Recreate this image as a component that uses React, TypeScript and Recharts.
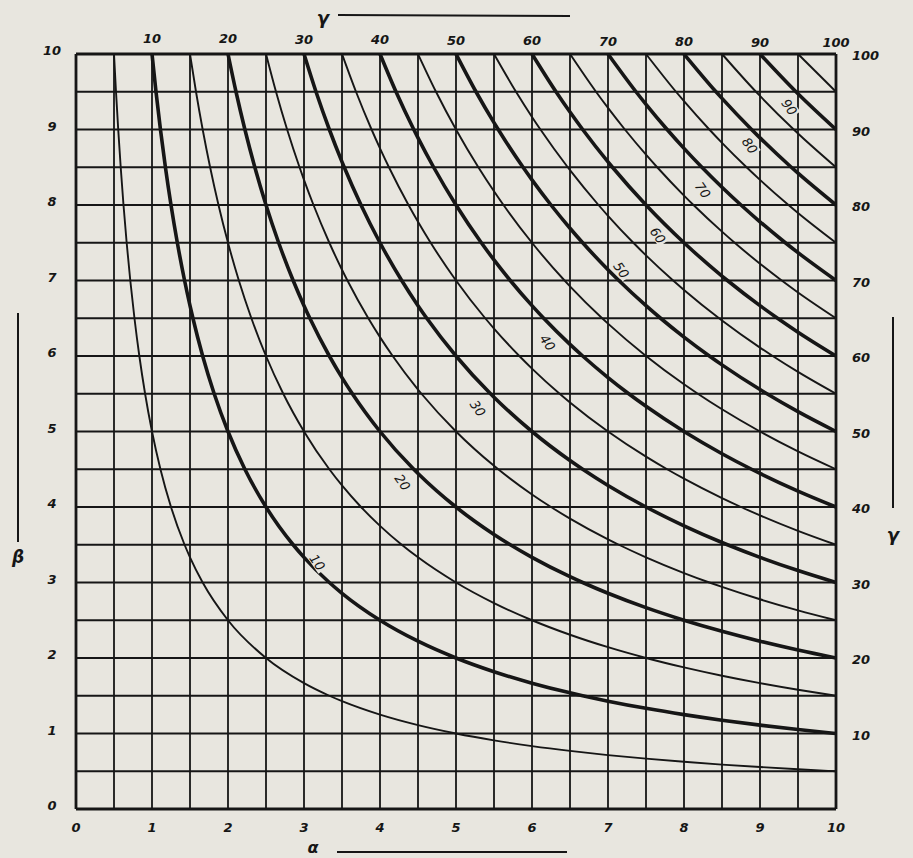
import { ComposedChart, Line, Scatter, XAxis, YAxis, ReferenceLine } from 'recharts';

// isolines of the nomogram: gamma = alpha * beta
const GAMMAS = [5, 10, 15, 20, 25, 30, 35, 40, 45, 50, 55, 60, 65, 70, 75, 80, 85, 90, 95];
const GRID_VALUES = [0, 0.5, 1, 1.5, 2, 2.5, 3, 3.5, 4, 4.5, 5, 5.5, 6, 6.5, 7, 7.5, 8, 8.5, 9, 9.5, 10];
const ALPHA_TICKS = [0, 1, 2, 3, 4, 5, 6, 7, 8, 9, 10];
const BETA_TICKS = [0, 1, 2, 3, 4, 5, 6, 7, 8, 9, 10];
const TOP_TICKS = [1, 2, 3, 4, 5, 6, 7, 8, 9, 10];
const RIGHT_TICKS = [1, 2, 3, 4, 5, 6, 7, 8, 9, 10];

// where the curve numbers are written
const CURVE_LABELS = [
  { a: 3.18, b: 3.27, text: '10' },
  { a: 4.3, b: 4.33, text: '20' },
  { a: 5.29, b: 5.31, text: '30' },
  { a: 6.21, b: 6.18, text: '40' },
  { a: 7.18, b: 7.14, text: '50' },
  { a: 7.66, b: 7.6, text: '60' },
  { a: 8.25, b: 8.2, text: '70' },
  { a: 8.87, b: 8.79, text: '80' },
  { a: 9.39, b: 9.3, text: '90' },
];

const PAPER = '#e8e6df';
const INK = '#161616';
const FONT = '"DejaVu Sans", sans-serif';

// points where each isoline crosses the grid lines
function crossings(g: number) {
  const pts: { a: number; b: number }[] = [];
  GRID_VALUES.forEach((v) => {
    if (v > 0 && v * 10 >= g) {
      pts.push({ a: v, b: g / v });
      pts.push({ a: g / v, b: v });
    }
  });
  pts.sort((p, q) => p.a - q.a);
  return pts.filter((p, i) => i === 0 || Math.abs(p.a - pts[i - 1].a) > 1e-6);
}

const labelStyle = { fontFamily: FONT, fontStyle: 'italic', fontWeight: 700, fontSize: 13, fill: INK } as const;

function CurveLabel(props: any) {
  const { cx, cy, payload } = props;
  return (
    <g transform={`translate(${cx},${cy}) rotate(55)`}>
      <rect x={-10} y={-6} width={20} height={12} fill={PAPER} />
      <text x={0} y={5} textAnchor="middle" style={{ ...labelStyle, fontWeight: 400, fontSize: 13 }}>
        {payload.text}
      </text>
    </g>
  );
}

export default function App() {
  return (
    <div style={{ position: 'absolute', left: 0, top: 0, width: 913, height: 858, background: PAPER, overflow: 'hidden' }}>
      <ComposedChart width={913} height={858} margin={{ top: 53, left: 75, right: 76, bottom: 48 }}>
        <XAxis
          xAxisId="a"
          dataKey="a"
          type="number"
          domain={[0, 10]}
          ticks={ALPHA_TICKS}
          interval={0}
          height={1}
          axisLine={false}
          tickLine={false}
          tick={({ x, payload }: any) => (
            <text x={x} y={832} textAnchor="middle" style={labelStyle}>{payload.value}</text>
          )}
        />
        <XAxis
          xAxisId="top"
          dataKey="a"
          type="number"
          orientation="top"
          domain={[0, 10]}
          ticks={TOP_TICKS}
          interval={0}
          height={1}
          axisLine={false}
          tickLine={false}
          tick={({ x, payload }: any) => (
            <text x={x} y={42 + payload.value * 0.5} textAnchor="middle" style={labelStyle}>{payload.value * 10}</text>
          )}
        />
        <YAxis
          yAxisId="b"
          dataKey="b"
          type="number"
          domain={[0, 10]}
          ticks={BETA_TICKS}
          interval={0}
          width={1}
          axisLine={false}
          tickLine={false}
          tick={({ y, payload }: any) => (
            <text x={52} y={y + 1} textAnchor="middle" style={labelStyle}>{payload.value}</text>
          )}
        />
        <YAxis
          yAxisId="right"
          dataKey="b"
          type="number"
          orientation="right"
          domain={[0, 10]}
          ticks={RIGHT_TICKS}
          interval={0}
          width={1}
          axisLine={false}
          tickLine={false}
          tick={({ y, payload }: any) => (
            <text x={852} y={y + 6} textAnchor="start" style={labelStyle}>{payload.value * 10}</text>
          )}
        />
        {GRID_VALUES.map((v) => (
          <ReferenceLine
            key={'v' + v}
            xAxisId="a"
            yAxisId="b"
            x={v}
            stroke={INK}
            strokeWidth={v === 0 || v === 10 ? 2.8 : 1.8}
          />
        ))}
        {GRID_VALUES.map((v) => (
          <ReferenceLine
            key={'h' + v}
            xAxisId="a"
            yAxisId="b"
            y={v}
            stroke={INK}
            strokeWidth={v === 0 || v === 10 ? 2.8 : 1.8}
          />
        ))}
        {GAMMAS.map((g) => (
          <Line
            key={g}
            xAxisId="a"
            yAxisId="b"
            data={crossings(g)}
            dataKey="b"
            type="monotone"
            stroke={INK}
            strokeWidth={g % 10 === 0 ? 3.6 : 1.9}
            dot={false}
            activeDot={false}
            isAnimationActive={false}
          />
        ))}
        <Line
          xAxisId="top"
          yAxisId="right"
          data={[{ a: 0, b: 0 }, { a: 10, b: 10 }]}
          dataKey="b"
          stroke="none"
          dot={false}
          activeDot={false}
          isAnimationActive={false}
        />
        <Scatter
          xAxisId="a"
          yAxisId="b"
          data={CURVE_LABELS}
          dataKey="b"
          shape={CurveLabel}
          isAnimationActive={false}
        />
      </ComposedChart>
      <svg width={913} height={858} style={{ position: 'absolute', left: 0, top: 0, pointerEvents: 'none' }}>
        <g stroke={INK} strokeWidth={2}>
          <line x1={338} y1={15} x2={570} y2={16} />
          <line x1={18} y1={313} x2={18} y2={542} />
          <line x1={893} y1={317} x2={893} y2={508} />
          <line x1={337} y1={852} x2={567} y2={852} />
        </g>
        <text x={323} y={24} textAnchor="middle" style={{ ...labelStyle, fontSize: 18 }}>γ</text>
        <text x={18} y={563} textAnchor="middle" style={{ ...labelStyle, fontSize: 17 }}>β</text>
        <text x={893} y={541} textAnchor="middle" style={{ ...labelStyle, fontSize: 18 }}>γ</text>
        <text x={313} y={853} textAnchor="middle" style={{ ...labelStyle, fontSize: 16 }}>α</text>
      </svg>
    </div>
  );
}
